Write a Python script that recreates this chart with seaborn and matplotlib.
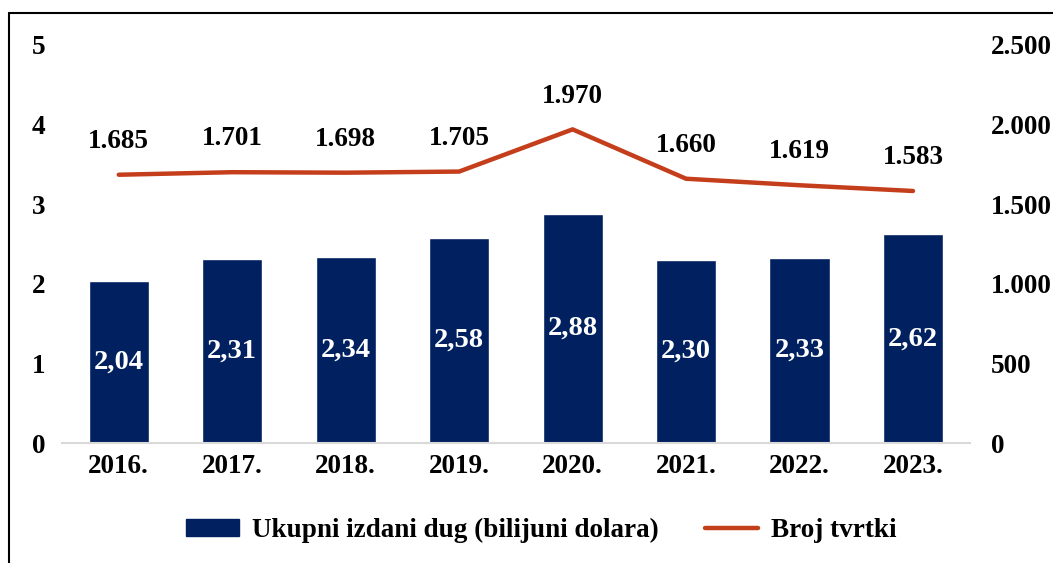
import numpy as np
import pandas as pd
import matplotlib
matplotlib.use("Agg")
import matplotlib.pyplot as plt
import seaborn as sns
from matplotlib.lines import Line2D
from matplotlib.patches import Patch

# data
years = ["2016.", "2017.", "2018.", "2019.", "2020.", "2021.", "2022.", "2023."]
debt = [2.04, 2.31, 2.34, 2.58, 2.88, 2.30, 2.33, 2.62]
firms = [1685, 1701, 1698, 1705, 1970, 1660, 1619, 1583]
left_ticks = [0, 1, 2, 3, 4, 5]
right_ticks = [0, 500, 1000, 1500, 2000, 2500]

navy = "#002060"
red = "#C43E1C"

sns.set_style("white")
plt.rcParams['font.family'] = ['Liberation Serif', 'DejaVu Serif']
plt.rcParams['font.weight'] = 'bold'
plt.rcParams['text.color'] = 'black'
plt.rcParams['xtick.color'] = 'black'
plt.rcParams['ytick.color'] = 'black'

fs = 19.5

df = pd.DataFrame({"year": years, "debt": debt, "firms": firms, "pos": np.arange(len(years))})

fig = plt.figure(figsize=(10.53, 5.63), dpi=100)
ax = fig.add_axes([0.0589, 0.2131, 0.862, 0.707])

sns.barplot(data=df, x="year", y="debt", color=navy, saturation=1, width=0.53, ax=ax)
ax.set_xlim(-0.5, len(years) - 0.5)
ax.set_ylim(0, 5)
ax.set_yticks(left_ticks)
ax.set_yticklabels([str(t) for t in left_ticks], fontsize=fs, fontweight='bold')
ax.set_xticks(range(len(years)))
ax.set_xticklabels(years, fontsize=fs, fontweight='bold')
ax.set_xlabel("")
ax.set_ylabel("")
ax.tick_params(axis='both', length=0)
ax.tick_params(axis='y', pad=12)
ax.tick_params(axis='x', pad=8)
for s in ["top", "right", "left"]:
    ax.spines[s].set_visible(False)
ax.spines["bottom"].set_color("#d9d9d9")
ax.spines["bottom"].set_linewidth(1.5)

for i, v in enumerate(debt):
    ax.text(i, v / 2, f"{v:.2f}".replace(".", ","), ha="center", va="center",
            color="white", fontsize=20.5, fontweight='bold')

ax2 = ax.twinx()
sns.lineplot(data=df, x="pos", y="firms", color=red, linewidth=3.2, ax=ax2,
             solid_capstyle='round')
ax2.set_ylim(0, 2500)
ax2.set_yticks(right_ticks)
ax2.set_yticklabels([f"{t:,}".replace(",", ".") for t in right_ticks], fontsize=fs, fontweight='bold')
ax2.set_xlim(-0.5, len(years) - 0.5)
ax2.set_ylabel("")
ax2.tick_params(axis='y', length=0, pad=15)
for s in ["top", "right", "left", "bottom"]:
    ax2.spines[s].set_visible(False)

for i, v in enumerate(firms):
    ax2.annotate(f"{v:,}".replace(",", "."), (i, v), xytext=(0, 24), textcoords="offset points",
                 ha="center", va="center", fontsize=fs, fontweight='bold')

handles = [Patch(facecolor=navy, edgecolor=navy),
           Line2D([0], [0], color=red, linewidth=3.2, solid_capstyle='round')]
fig.legend(handles, ["Ukupni izdani dug (bilijuni dolara)", "Broj tvrtki"],
           loc="center", bbox_to_anchor=(0.514, 0.058), ncol=2, frameon=False,
           prop={'size': fs, 'weight': 'bold'}, handlelength=1.95, handleheight=0.6,
           columnspacing=1.7, handletextpad=0.5)

# frame lines on left and top
fig.add_artist(Line2D([0.0085, 0.0085], [0, 0.977], transform=fig.transFigure, color="black", linewidth=1.5))
fig.add_artist(Line2D([0.0085, 1], [0.977, 0.977], transform=fig.transFigure, color="black", linewidth=1.5))

fig.savefig("out.png", dpi=100)
